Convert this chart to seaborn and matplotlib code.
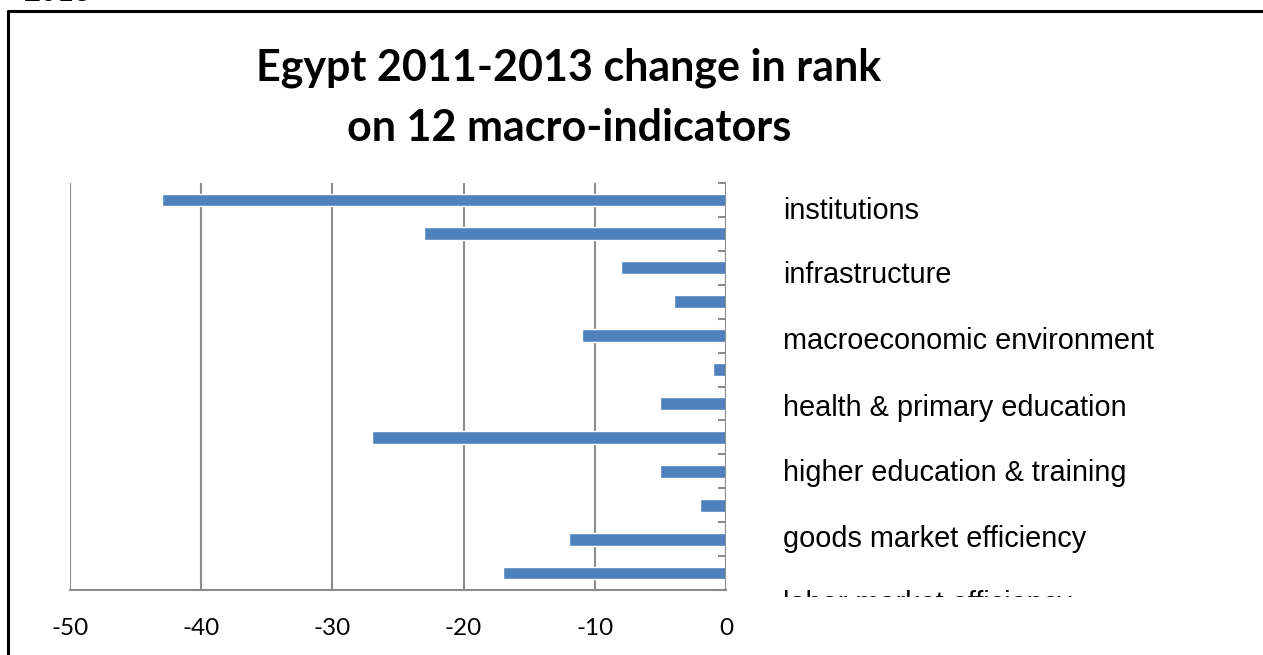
import matplotlib
matplotlib.use("Agg")
import matplotlib.pyplot as plt
import seaborn as sns
import pandas as pd
from matplotlib.lines import Line2D
from matplotlib.transforms import Bbox, TransformedBbox, IdentityTransform

# ---- data ----
pillars = ["institutions", "infrastructure", "macroeconomic environment",
           "health & primary education", "higher education & training",
           "goods market efficiency", "labor market efficiency",
           "financial market development", "technological readiness",
           "market size", "business sophistication", "innovation"]
rank_change = [-43, -23, -8, -4, -11, -1, -5, -27, -5, -2, -12, -17]
shown_labels = ["institutions", "infrastructure", "macroeconomic environment",
                "health & primary education", "higher education & training",
                "goods market efficiency", "labor market efficiency"]
label_pos = [0.34, 2.22, 4.17, 6.12, 8.04, 10.01, 11.9]
x_ticks = [-50, -40, -30, -20, -10, 0]
title = "Egypt 2011-2013 change in rank\non 12 macro-indicators"

df = pd.DataFrame({"pillar": pillars, "change": rank_change})

sns.set_theme(style="white")
plt.rcParams["font.family"] = ["Liberation Sans", "DejaVu Sans"]

W, H = 1263, 655
fig = plt.figure(figsize=(W / 100, H / 100), dpi=100)
ax = fig.add_axes([70 / W, 1 - 590 / H, (726 - 70) / W, (590 - 183) / H])

sns.barplot(data=df, x="change", y="pillar", order=pillars, orient="h",
            color="#4F81BD", saturation=1, width=0.38, ax=ax, zorder=3)

ax.set_xlim(-50, 0)
ax.set_ylim(11.5, -0.5)
ax.set_xticks(x_ticks)
ax.set_xticklabels([str(v) for v in x_ticks], fontfamily="Lato", fontsize=17.5)
ax.tick_params(axis="x", length=0, pad=20, colors="#000000", labelcolor="#000000")
ax.set_xlabel("")
ax.set_ylabel("")
ax.set_yticks([])
ax.grid(axis="x", color="#8C8C8C", linewidth=1.5, zorder=0)
for s in ["top", "right", "left"]:
    ax.spines[s].set_visible(False)
ax.spines["bottom"].set_color("#8C8C8C")
ax.spines["bottom"].set_linewidth(1.5)

# category axis at x=0 with tick marks between categories
ax.axvline(0, color="#8C8C8C", linewidth=1.5, zorder=4)
for b in [i - 0.5 for i in range(len(pillars) + 1)]:
    ax.plot([-0.6, 0], [b, b], color="#8C8C8C", linewidth=1.5,
            zorder=4, clip_on=False, solid_capstyle="butt")

# right-side labels, clipped just below the plot region
clip = TransformedBbox(Bbox([[0, H - 597], [W, H]]), IdentityTransform())
for lab, yp in zip(shown_labels, label_pos):
    t = ax.text(4.35, yp, lab, fontsize=20.8, ha="left", va="center",
                color="#000000", fontfamily="Liberation Sans")
    t.set_clip_on(True)
    t.set_clip_box(clip)

fig.text(569 / W, 1 - 98 / H, title, ha="center", va="center", color="#000000",
         fontfamily="Lato", fontweight="bold", fontsize=31, linespacing=1.6)

# clipped header text and frame
fig.text(24 / W, 1 - 6 / H, "2013", ha="left", va="bottom", color="#000000",
         fontfamily="Lato", fontweight="bold", fontsize=21)
fig.add_artist(Line2D([8 / W, 1], [1 - 11 / H, 1 - 11 / H], color="black",
                      linewidth=2.2, transform=fig.transFigure))
fig.add_artist(Line2D([8 / W, 8 / W], [0, 1 - 11 / H], color="black",
                      linewidth=2.2, transform=fig.transFigure))

fig.savefig("out.png", dpi=100, facecolor="white")
